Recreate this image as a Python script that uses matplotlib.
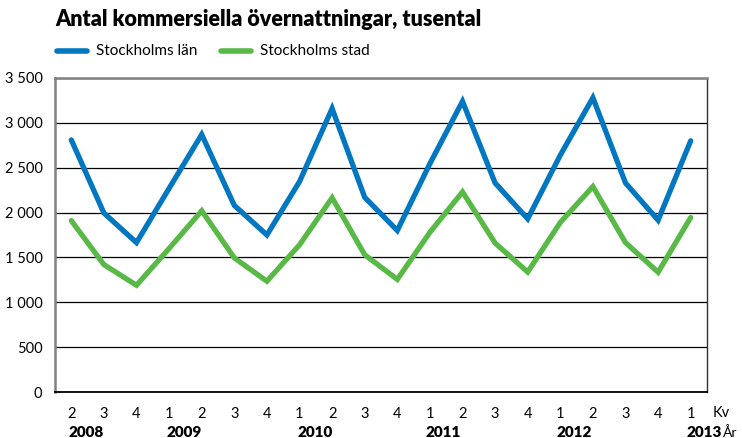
import matplotlib
matplotlib.use("Agg")
import matplotlib.pyplot as plt
import numpy as np

# data: quarters 2008 Q2 .. 2013 Q1, thousands of overnight stays
quarters = ['2', '3', '4'] + ['1', '2', '3', '4'] * 4 + ['1']
years = ['2008', '2009', '2010', '2011', '2012', '2013']
year_pos = [0.44, 3.47, 7.49, 11.42, 15.44, 19.40]

lan = [2810, 1995, 1665, 2270, 2870, 2080, 1750, 2345, 3160, 2170,
       1800, 2545, 3240, 2330, 1930, 2640, 3280, 2330, 1915, 2800]
stad = [1910, 1420, 1190, 1600, 2020, 1495, 1235, 1640, 2165, 1530,
        1255, 1780, 2230, 1660, 1337, 1890, 2290, 1665, 1335, 1945]

blue = '#0077c0'
green = '#58b947'
plt.rcParams['font.family'] = ['Lato', 'DejaVu Sans']

fig = plt.figure(figsize=(7.42, 4.38), dpi=100)
ax = fig.add_axes([55/742, 1-392/438, (707-55)/742, (392-78)/438])

x = np.arange(len(lan))
ax.plot(x, lan, color=blue, lw=3.8, solid_capstyle='round', solid_joinstyle='miter', zorder=3)
ax.plot(x, stad, color=green, lw=3.8, solid_capstyle='round', solid_joinstyle='miter', zorder=3)

ax.set_xlim(-0.5, len(lan) - 0.5)
ax.set_ylim(0, 3500)
yt = np.arange(0, 3501, 500)
ax.set_yticks(yt)
ax.set_yticklabels([f'{v:,}'.replace(',', ' ') for v in yt], fontsize=10.5)
ax.yaxis.grid(True, color='black', lw=0.9)
ax.set_axisbelow(True)
ax.tick_params(axis='y', length=0, pad=9)
ax.set_xticks(x)
ax.set_xticklabels(quarters, fontsize=10.5)
ax.tick_params(axis='x', length=0, pad=11)

for s in ['left', 'top']:
    ax.spines[s].set_color('#808080')
    ax.spines[s].set_linewidth(1.8)
ax.spines['right'].set_color('#303030')
ax.spines['right'].set_linewidth(1.0)
ax.spines['bottom'].set_color('black')
ax.spines['bottom'].set_linewidth(1.3)

trans = ax.get_xaxis_transform()
for yr, p in zip(years, year_pos):
    ax.text(p, -0.128, yr, transform=trans, ha='center', va='center',
            fontsize=11, fontweight='heavy')
ax.text(19.67, -0.068, 'Kv', transform=trans, ha='left',
        va='center', fontsize=10.5)
ax.text(20.0, -0.128, 'År', transform=trans, ha='left',
        va='center', fontsize=10)

fig.text(55/742, 1-20/438, 'Antal kommersiella övernattningar, tusental',
         ha='left', va='center', fontsize=15.5, fontweight='heavy')

# legend drawn by hand
fig.add_artist(plt.Line2D([57/742, 87/742], [1-51/438]*2, color=blue, lw=4,
                          solid_capstyle='round'))
fig.text(96/742, 1-51/438, 'Stockholms län', ha='left', va='center', fontsize=11)
fig.add_artist(plt.Line2D([221/742, 251/742], [1-51/438]*2, color=green, lw=4,
                          solid_capstyle='round'))
fig.text(260/742, 1-51/438, 'Stockholms stad', ha='left', va='center', fontsize=11)

fig.savefig('out.png', dpi=100)
